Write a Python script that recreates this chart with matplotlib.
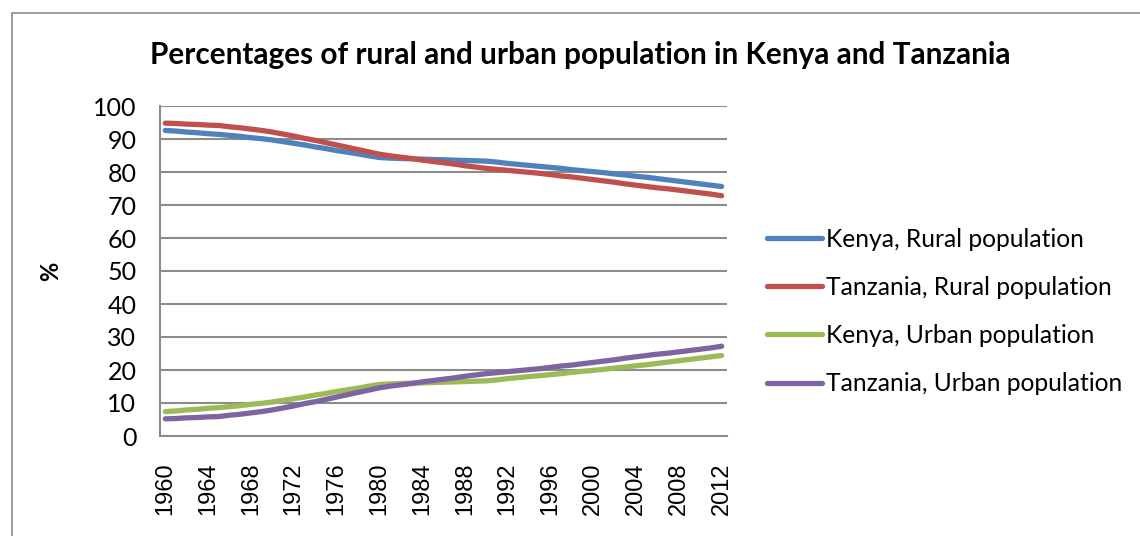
import numpy as np
import matplotlib.pyplot as plt
from matplotlib.patches import Rectangle

# 資料 (每年估計值)
years = list(range(1960, 2013))
tick_labels = [str(y) for y in range(1960, 2013, 4)]

kenya_urban = [7.4, 7.6, 7.9, 8.1, 8.4, 8.6, 8.9, 9.2, 9.6, 9.9,
               10.3, 10.8, 11.3, 11.8, 12.4, 12.9, 13.5, 14.0, 14.5, 15.1,
               15.6, 15.8, 15.9, 16.0, 16.1, 16.2, 16.3, 16.4, 16.5, 16.6,
               16.7, 17.0, 17.4, 17.7, 18.0, 18.3, 18.6, 18.9, 19.3, 19.6,
               19.9, 20.2, 20.6, 20.9, 21.3, 21.6, 22.0, 22.4, 22.8, 23.2,
               23.6, 24.0, 24.4]
kenya_rural = [92.6, 92.4, 92.1, 91.9, 91.6, 91.4, 91.1, 90.8, 90.4, 90.1,
               89.7, 89.2, 88.7, 88.2, 87.6, 87.1, 86.5, 86.0, 85.5, 84.9,
               84.4, 84.2, 84.1, 84.0, 83.9, 83.8, 83.7, 83.6, 83.5, 83.4,
               83.3, 83.0, 82.6, 82.3, 82.0, 81.7, 81.4, 81.1, 80.7, 80.4,
               80.1, 79.8, 79.4, 79.1, 78.7, 78.4, 78.0, 77.6, 77.2, 76.8,
               76.4, 76.0, 75.6]
tanzania_urban = [5.2, 5.3, 5.5, 5.6, 5.8, 5.9, 6.3, 6.6, 7.0, 7.4,
                  7.9, 8.5, 9.1, 9.8, 10.4, 11.1, 11.8, 12.5, 13.2, 13.9,
                  14.6, 15.1, 15.5, 15.9, 16.4, 16.8, 17.2, 17.6, 18.1, 18.5,
                  18.9, 19.2, 19.5, 19.8, 20.1, 20.4, 20.8, 21.2, 21.5, 21.9,
                  22.3, 22.7, 23.1, 23.6, 24.0, 24.4, 24.8, 25.1, 25.5, 25.9,
                  26.3, 26.7, 27.2]
tanzania_rural = [94.8, 94.7, 94.5, 94.4, 94.2, 94.1, 93.7, 93.4, 93.0, 92.6,
                  92.1, 91.5, 90.9, 90.2, 89.6, 88.9, 88.2, 87.5, 86.8, 86.1,
                  85.4, 84.9, 84.5, 84.1, 83.6, 83.2, 82.8, 82.4, 81.9, 81.5,
                  81.1, 80.8, 80.5, 80.2, 79.9, 79.6, 79.2, 78.8, 78.5, 78.1,
                  77.7, 77.3, 76.9, 76.4, 76.0, 75.6, 75.2, 74.9, 74.5, 74.1,
                  73.7, 73.3, 72.8]

series = [
    ('Kenya, Rural population', kenya_rural, '#4F81BD'),
    ('Tanzania, Rural population', tanzania_rural, '#C0504D'),
    ('Kenya, Urban population', kenya_urban, '#9BBB59'),
    ('Tanzania, Urban population', tanzania_urban, '#8064A2'),
]

fig = plt.figure(figsize=(11.4, 5.36), dpi=100)
# 外框
fig.patches.append(Rectangle((12/1140, -0.1), 1.2, (536-13)/536 + 0.1,
                             transform=fig.transFigure, fill=False,
                             edgecolor='#8c8c8c', linewidth=1.2))

ax = fig.add_axes([160/1140, 100/536, 567/1140, 330/536])
x = np.arange(len(years))
for name, vals, color in series:
    ax.plot(x, vals, color=color, linewidth=3.8, label=name,
            solid_capstyle='round')

ax.set_xlim(-0.5, len(years) - 0.5)
ax.set_ylim(0, 100)
ax.set_yticks(range(0, 101, 10))
ax.set_xticks(x[::4])
ax.set_xticklabels(tick_labels, rotation=90, family='Liberation Sans',
                   fontsize=17)
for lab in ax.get_yticklabels():
    lab.set_family('Lato')
    lab.set_fontsize(18)
ax.tick_params(axis='both', length=0)
ax.tick_params(axis='y', pad=17)
ax.tick_params(axis='x', pad=19)
ax.grid(axis='y', color='#8c8c8c', linewidth=1.5)
ax.set_axisbelow(True)
for s in ['top', 'right']:
    ax.spines[s].set_visible(False)
for s in ['left', 'bottom']:
    ax.spines[s].set_color('#8c8c8c')
    ax.spines[s].set_linewidth(1.5)

ax.set_ylabel('%', fontsize=17, fontweight='bold', family='Lato')
ax.yaxis.set_label_coords((62 - 160) / 567, 0.5)

fig.text(580/1140, 1 - 55/536,
         'Percentages of rural and urban population in Kenya and Tanzania',
         ha='center', va='center', fontsize=21.4, fontweight='bold', family='Lato')

leg = ax.legend(loc='center left', bbox_to_anchor=(767/1140, 1 - 311.5/536),
                bbox_transform=fig.transFigure, frameon=False,
                prop={'family': 'Lato', 'size': 17.7},
                handlelength=2.24, handletextpad=0.16, labelspacing=1.02,
                borderpad=0, borderaxespad=0)

fig.savefig('out.png', dpi=100)
